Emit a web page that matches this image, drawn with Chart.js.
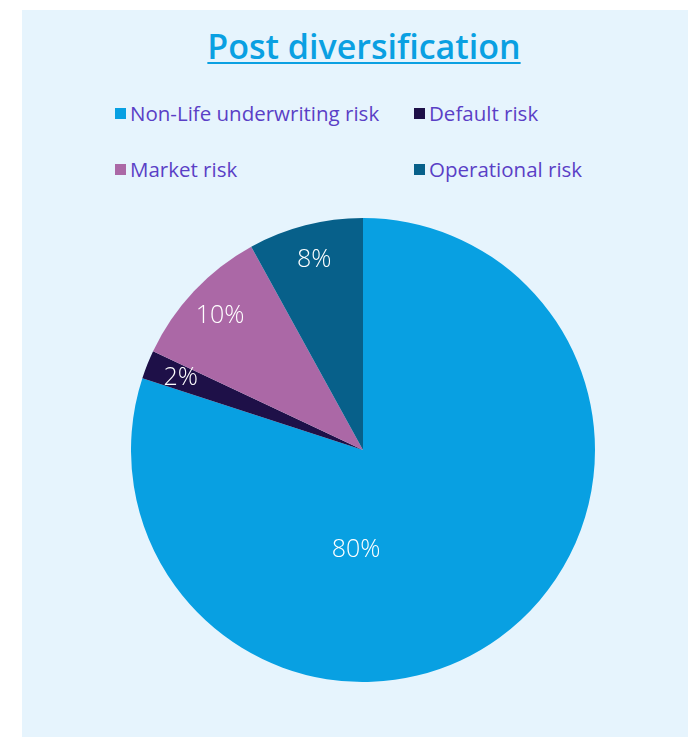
<!DOCTYPE html>
<html>
<head>
<meta charset="utf-8">
<script src="https://cdn.jsdelivr.net/npm/chart.js@4.4.0/dist/chart.umd.min.js"></script>
<style>
  html, body { margin: 0; padding: 0; background: #ffffff; }
  body { width: 688px; height: 737px; position: relative; overflow: hidden; font-family: "Open Sans", sans-serif; }
  #panel { position: absolute; left: 22px; top: 10px; width: 666px; height: 727px; background: #e6f4fd; }
  #title { position: absolute; left: 40px; top: 23px; width: 648px; text-align: center; font-size: 34px; font-weight: 600;
           color: #0aa0e2; text-decoration: underline; text-decoration-thickness: 2px; text-underline-offset: 3px; }
  .leg { position: absolute; display: flex; align-items: center; font-size: 20.5px; color: #5a3fc6; white-space: nowrap; }
  .leg span.box { width: 11px; height: 11px; margin-right: 4px; display: inline-block; }
  #wrap { position: absolute; left: 131px; top: 218px; width: 464px; height: 464px; }
</style>
</head>
<body>
<div id="panel"></div>
<div id="title">Post diversification</div>
<div id="legend"></div>
<div id="wrap"><canvas id="pie"></canvas></div>
<script>
const categories = ['Non-Life underwriting risk', 'Default risk', 'Market risk', 'Operational risk'];
const shares = [80, 2, 10, 8];
const colors = ['#08a0e2', '#1e1048', '#ab68a6', '#07608a'];

// legend, two columns like the original
const legPos = [[115, 113], [414, 113], [115, 169], [414, 169]];
const legend = document.getElementById('legend');
categories.forEach((c, i) => {
  const d = document.createElement('div');
  d.className = 'leg';
  d.style.left = legPos[i][0] + 'px';
  d.style.top = (legPos[i][1] - 14) + 'px';
  d.innerHTML = '<span class="box" style="background:' + colors[i] + '"></span>' + c;
  legend.appendChild(d);
});

const pctLabels = {
  id: 'pctLabels',
  afterDatasetsDraw(chart) {
    const ctx = chart.ctx;
    const meta = chart.getDatasetMeta(0);
    ctx.save();
    ctx.fillStyle = '#ffffff';
    ctx.font = '300 25px "Open Sans"';
    ctx.textAlign = 'center';
    ctx.textBaseline = 'middle';
    meta.data.forEach((arc, i) => {
      const p = arc.getProps(['x', 'y', 'startAngle', 'endAngle', 'outerRadius']);
      let x, y;
      if (shares[i] > 50) {
        // big slice: label sits below the centre
        x = p.x - 0.03 * p.outerRadius;
        y = p.y + 0.43 * p.outerRadius;
      } else {
        const mid = (p.startAngle + p.endAngle) / 2;
        x = p.x + Math.cos(mid) * p.outerRadius * 0.845;
        y = p.y + Math.sin(mid) * p.outerRadius * 0.845;
      }
      ctx.fillText(shares[i] + '%', x, y);
    });
    ctx.restore();
  }
};

new Chart(document.getElementById('pie'), {
  type: 'pie',
  data: {
    labels: categories,
    datasets: [{
      data: shares,
      backgroundColor: colors,
      borderWidth: 0
    }]
  },
  options: {
    responsive: true,
    maintainAspectRatio: false,
    animation: false,
    layout: { padding: 0 },
    plugins: {
      legend: { display: false },
      tooltip: { enabled: false }
    }
  },
  plugins: [pctLabels]
});
</script>
</body>
</html>
